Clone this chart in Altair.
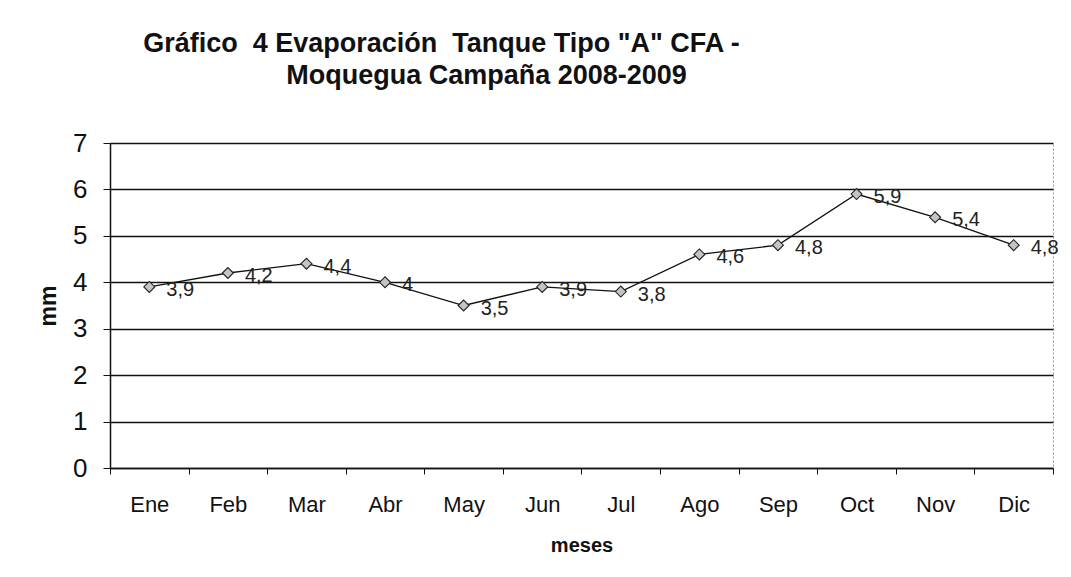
import altair as alt
import pandas as pd

meses = ["Ene", "Feb", "Mar", "Abr", "May", "Jun", "Jul", "Ago", "Sep", "Oct", "Nov", "Dic"]
valores = [3.9, 4.2, 4.4, 4.0, 3.5, 3.9, 3.8, 4.6, 4.8, 5.9, 5.4, 4.8]

titulo_1 = "Gráfico\u00a0 4 Evaporación\u00a0 Tanque Tipo \"A\" CFA -"
titulo_2 = "\u200c" + "\u00a0" * 12 + "Moquegua Campaña 2008-2009"

df = pd.DataFrame({"mes": meses, "valor": valores})

FONT = "Liberation Sans"

x = alt.X("mes:N", sort=meses,
          scale=alt.Scale(type="band", paddingInner=0, paddingOuter=0),
          axis=alt.Axis(title="meses", labelAngle=0, labelFontSize=22, labelPadding=20,
                        labelColor="#111", tickBand="extent", tickColor="#111", tickSize=6,
                        domainColor="#111", domainWidth=1.5, grid=False,
                        titleFontSize=20, titleFontWeight="bold", titlePadding=20,
                        titleColor="#111"))
y = alt.Y("valor:Q",
          scale=alt.Scale(domain=[0, 7]),
          axis=alt.Axis(title="mm", values=list(range(8)), labelFontSize=26, labelPadding=16,
                        labelColor="#111", tickColor="#111", tickSize=7,
                        domainColor="#111", domainWidth=1.5,
                        grid=True, gridColor="#111", gridWidth=1.6,
                        titleFontSize=23, titleFontWeight="bold", titlePadding=12,
                        titleColor="#111"))

base = alt.Chart(df).encode(x=x, y=y)

line = base.mark_line(color="#111", strokeWidth=1.3)
pts = base.mark_point(shape="diamond", size=120, filled=True, fill="#c4c4c4",
                      stroke="#222", strokeWidth=1.1, opacity=1)
labels = base.transform_calculate(
    etiqueta="replace(toString(datum.valor), '.', ',')"
).mark_text(align="left", baseline="middle", dx=17, dy=3, fontSize=20, color="#222",
            font=FONT).encode(text="etiqueta:N")

chart = alt.layer(line, pts, labels).properties(
    width=943, height=325,
    padding={"left": 102, "top": 135, "right": 10, "bottom": 95},
    autosize=alt.AutoSizeParams(type="none"),
    title=alt.Title(
        text=[titulo_1, titulo_2],
        fontSize=27, fontWeight="bold", font=FONT, color="#111",
        anchor="middle", dx=-140, offset=40, lineHeight=32),
).configure(font=FONT).configure_view(stroke="#999", strokeDash=[2, 2], strokeWidth=1)

chart.save("out.html", embed_options={"renderer": "svg", "actions": False})
